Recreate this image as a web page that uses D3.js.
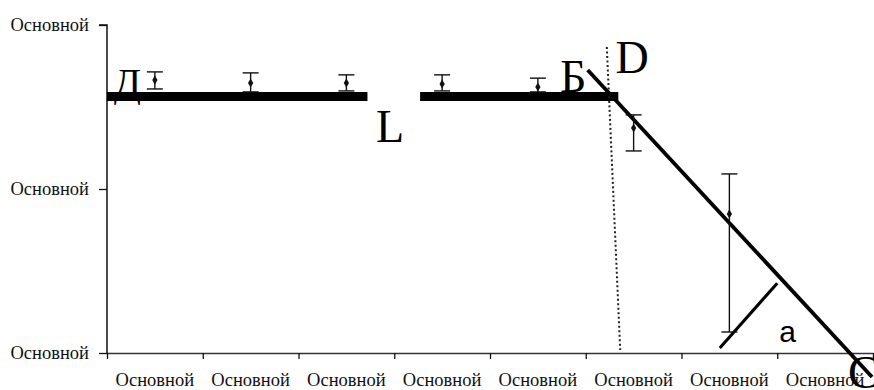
<!DOCTYPE html>
<html>
<head>
<meta charset="utf-8">
<script src="https://cdn.jsdelivr.net/npm/d3@7"></script>
<style>
  html, body { margin: 0; padding: 0; background: #fff; }
  svg { display: block; }
</style>
</head>
<body>
<svg id="chart" width="874" height="390"></svg>
<script>
// Category labels along the bottom axis
const categories = ["Основной", "Основной", "Основной", "Основной", "Основной", "Основной", "Основной", "Основной"];
// Labels for the three value ticks
const yTickValues = [0, 50, 100];
const yTickLabels = ["Основной", "Основной", "Основной"];

// Measured means with their upper / lower error limits (first seven categories)
const meanValues = [83.2, 82.3, 82.3, 82.0, 81.1, 68.6, 42.4];
const errHigh    = [85.7, 85.4, 84.8, 84.8, 83.8, 72.6, 54.6];
const errLow     = [80.5, 79.6, 79.9, 79.9, 79.6, 61.6, 6.4];

// Plateau segments (category units, value)
const plateauStart = [0.0, 3.27];
const plateauEnd   = [2.72, 5.34];
const plateauLevel = 78.2;

// Declining fit line, boundary marker and angle marker: [x, value] pairs
const slopeLine    = [[5.02, 86.3], [7.99, -7.3]];
const boundaryLine = [[5.22, 93.3], [5.36, 0.9]];
const angleLine    = [[6.40, 1.5], [7.00, 21.3]];

// Point annotations: text, category position, value
const noteText  = ["Д", "L", "Б", "D", "C", "a"];
const noteX     = [0.07, 2.81, 4.73, 5.31, 7.74, 7.02];
const noteValue = [78.3, 64.3, 79.6, 85.4, -10.7, 3.35];

const svg = d3.select("#chart");
const plotLeft = 107, plotRight = 873, plotTop = 25, plotBottom = 353;

const x = d3.scaleLinear().domain([0, categories.length]).range([plotLeft, plotRight]);
const y = d3.scaleLinear().domain([0, 100]).range([plotBottom, plotTop]);

const serif = "'Liberation Serif', 'Times New Roman', serif";

// Y axis
const yAxis = d3.axisLeft(y)
  .tickValues(yTickValues)
  .tickFormat((d, i) => yTickLabels[i])
  .tickSize(8)
  .tickPadding(10);
const gy = svg.append("g").attr("transform", `translate(${plotLeft},0)`).call(yAxis);
gy.select(".domain").attr("stroke", "#111").attr("stroke-width", 1.5).attr("d", `M-8,${plotTop}H0V${plotBottom}`);
gy.selectAll(".tick line").attr("stroke", "#111").attr("stroke-width", 1.3);
gy.selectAll(".tick text").attr("font-family", serif).attr("font-size", 18.5).attr("fill", "#111");

// X axis: ticks at category boundaries, labels centred in each category
const xAxis = d3.axisBottom(x)
  .tickValues(d3.range(0, categories.length + 1))
  .tickFormat("")
  .tickSize(6)
  .tickSizeOuter(0);
const gx = svg.append("g").attr("transform", `translate(0,${plotBottom})`).call(xAxis);
gx.select(".domain").attr("stroke", "#333").attr("stroke-width", 1.5);
gx.selectAll(".tick line").attr("stroke", "#111").attr("stroke-width", 1.3);
gx.selectAll(".cat-label")
  .data(categories)
  .join("text")
  .attr("class", "cat-label")
  .attr("x", (d, i) => x(i + 0.5))
  .attr("y", 32.5)
  .attr("text-anchor", "middle")
  .attr("font-family", serif)
  .attr("font-size", 18.5)
  .attr("fill", "#111")
  .text(d => d);

const line = d3.line().x(d => x(d[0])).y(d => y(d[1]));

// Thick plateau segments
svg.selectAll(".plateau")
  .data(plateauStart.map((s, i) => [[s, plateauLevel], [plateauEnd[i], plateauLevel]]))
  .join("path")
  .attr("class", "plateau")
  .attr("d", line)
  .attr("stroke", "#000")
  .attr("stroke-width", 9)
  .attr("fill", "none");

// Boundary (dotted)
svg.append("path")
  .attr("d", line(boundaryLine))
  .attr("stroke", "#222")
  .attr("stroke-width", 2)
  .attr("stroke-dasharray", "2,2.5")
  .attr("fill", "none");

// Declining fit line
svg.append("path")
  .attr("d", line(slopeLine))
  .attr("stroke", "#000")
  .attr("stroke-width", 3.8)
  .attr("fill", "none");

// Angle marker
svg.append("path")
  .attr("d", line(angleLine))
  .attr("stroke", "#000")
  .attr("stroke-width", 3)
  .attr("fill", "none");

// Error bars with caps
const eb = svg.selectAll(".err")
  .data(meanValues.map((m, i) => ({ i, m, hi: errHigh[i], lo: errLow[i] })))
  .join("g")
  .attr("class", "err");
eb.append("line")
  .attr("x1", d => x(d.i + 0.5)).attr("x2", d => x(d.i + 0.5))
  .attr("y1", d => y(d.hi)).attr("y2", d => y(d.lo))
  .attr("stroke", "#111").attr("stroke-width", 1.4);
eb.append("line")
  .attr("x1", d => x(d.i + 0.5) - 8).attr("x2", d => x(d.i + 0.5) + 8)
  .attr("y1", d => y(d.hi)).attr("y2", d => y(d.hi))
  .attr("stroke", "#111").attr("stroke-width", 1.4);
eb.append("line")
  .attr("x1", d => x(d.i + 0.5) - 8).attr("x2", d => x(d.i + 0.5) + 8)
  .attr("y1", d => y(d.lo)).attr("y2", d => y(d.lo))
  .attr("stroke", "#111").attr("stroke-width", 1.4);
eb.append("path")
  .attr("transform", d => `translate(${x(d.i + 0.5)},${y(d.m)})`)
  .attr("d", d3.symbol(d3.symbolDiamond, 24))
  .attr("fill", "#111");

// Annotations
svg.selectAll(".note")
  .data(noteText.map((t, i) => ({ t, px: noteX[i], v: noteValue[i] })))
  .join("text")
  .attr("class", "note")
  .attr("x", d => x(d.px))
  .attr("y", d => y(d.v))
  .attr("font-family", d => d.t === "a" ? "'Liberation Sans', Arial, sans-serif" : serif)
  .attr("font-size", d => d.t === "a" ? 30 : (d.t === "Д" ? 40 : 46))
  .attr("fill", "#000")
  .text(d => d.t);
</script>
</body>
</html>
